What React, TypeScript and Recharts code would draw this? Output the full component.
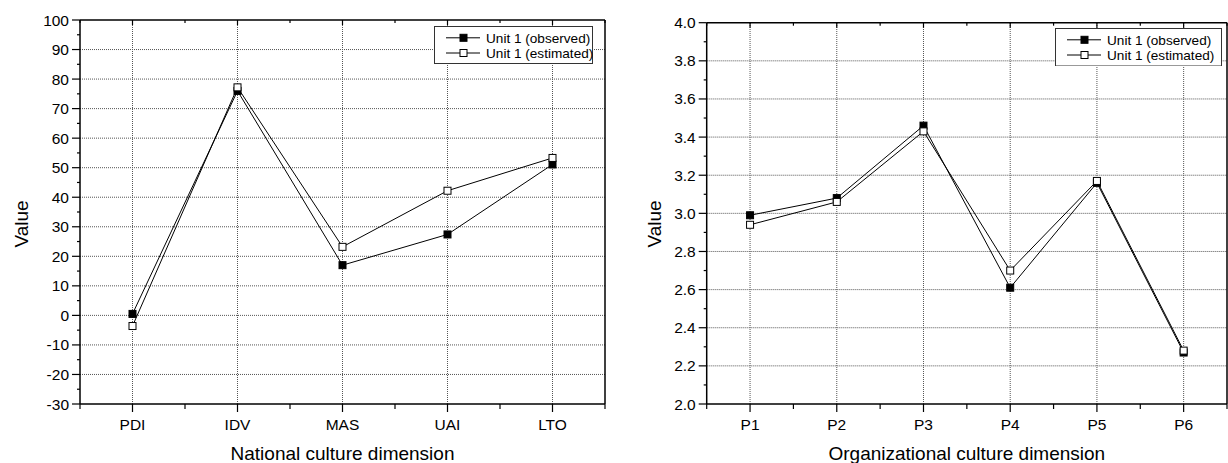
import React from 'react';
import { LineChart, Line, XAxis, YAxis, ReferenceLine } from 'recharts';

// ---------- Data ----------
const nationalCategories = ['PDI', 'IDV', 'MAS', 'UAI', 'LTO'];
const nationalObserved = [0.5, 76, 17, 27.4, 51.1];
const nationalEstimated = [-3.6, 77.2, 23.2, 42.2, 53.3];
const nationalYTicks = [-30, -20, -10, 0, 10, 20, 30, 40, 50, 60, 70, 80, 90, 100];

const orgCategories = ['P1', 'P2', 'P3', 'P4', 'P5', 'P6'];
const orgObserved = [2.99, 3.08, 3.46, 2.61, 3.16, 2.27];
const orgEstimated = [2.94, 3.06, 3.43, 2.7, 3.17, 2.28];
const orgYTicks = [2.0, 2.2, 2.4, 2.6, 2.8, 3.0, 3.2, 3.4, 3.6, 3.8, 4.0];

const seriesNames = ['Unit 1 (observed)', 'Unit 1 (estimated)'];

const FONT = 'Arial, "Liberation Sans", Helvetica, sans-serif';

// ---------- helpers ----------
const withMinors = (majors: number[]) =>
  majors.flatMap((v, i) => (i < majors.length - 1 ? [v, +((v + majors[i + 1]) / 2).toFixed(4)] : [v]));

const categoryTicks = (n: number) => {
  const out: number[] = [];
  for (let i = 0; i < n; i++) out.push(i - 0.5, i);
  out.push(n - 0.5);
  return out;
};

const buildData = (cats: string[], obs: number[], est: number[]) =>
  cats.map((c, i) => ({ x: i, label: c, observed: obs[i], estimated: est[i] }));

const makeXTick = (cats: string[], side: 'bottom' | 'top') => (props: any) => {
  const { x, y, payload } = props;
  const v = payload.value;
  const major = Number.isInteger(v);
  if (side === 'bottom') {
    const len = major ? 8 : 5;
    return (
      <g>
        <line x1={x} y1={y} x2={x} y2={y + len} stroke="#000" strokeWidth={1.2} />
        {major && (
          <text x={x} y={y + 26} textAnchor="middle" fontSize={15.5} fontFamily={FONT} fill="#000">
            {cats[v]}
          </text>
        )}
      </g>
    );
  }
  const len = major ? 5 : 3;
  return <line x1={x} y1={y} x2={x} y2={y + len} stroke="#000" strokeWidth={1.2} />;
};

const makeYTick = (majors: number[], side: 'left' | 'right', fmt: (v: number) => string) => (props: any) => {
  const { x, y, payload } = props;
  const v = payload.value;
  const major = majors.includes(v);
  if (side === 'left') {
    const len = major ? 8 : 3;
    return (
      <g>
        <line x1={x} y1={y} x2={x - len} y2={y} stroke="#000" strokeWidth={1.2} />
        {major && (
          <text x={x - 11} y={y + 5.5} textAnchor="end" fontSize={15.5} fontFamily={FONT} fill="#000">
            {fmt(v)}
          </text>
        )}
      </g>
    );
  }
  const len = major ? 6 : 3;
  return <line x1={x} y1={y} x2={x - len} y2={y} stroke="#000" strokeWidth={1.2} />;
};

const SquareDot = (fill: string) => (p: any) => {
  if (p.cx == null || p.cy == null) return <g key={p.index} />;
  return (
    <rect
      key={`d-${p.index}`}
      x={p.cx - 3.5}
      y={p.cy - 3.5}
      width={7}
      height={7}
      fill={fill}
      stroke="#000"
      strokeWidth={1}
    />
  );
};

function LegendBox({ left, top, w, h }: { left: number; top: number; w: number; h: number }) {
  return (
    <svg width={w} height={h} style={{ position: 'absolute', left, top, display: 'block' }}>
      <rect x={0.5} y={0.5} width={w - 1} height={h - 1} fill="#fff" stroke="#333" strokeWidth={1} />
      {seriesNames.map((name, i) => {
        const ry = i === 0 ? 11.8 : 27;
        return (
          <g key={name}>
            <line x1={12} x2={46} y1={ry} y2={ry} stroke="#000" strokeWidth={1} />
            <rect x={26} y={ry - 3.5} width={7} height={7} fill={i === 0 ? '#000' : '#fff'} stroke="#000" />
            <text x={52} y={ry + 4.8} fontSize={13.6} fontFamily={FONT} fill="#000">
              {name}
            </text>
          </g>
        );
      })}
    </svg>
  );
}

type PanelProps = {
  left: number;
  width: number;
  margin: { top: number; right: number; bottom: number; left: number };
  cats: string[];
  obs: number[];
  est: number[];
  majors: number[];
  fmt: (v: number) => string;
  xTitle: string;
  yTitleX: number;
  legend: { left: number; top: number; w: number; h: number };
  rightAxisWidth: number;
};

function Panel(props: PanelProps) {
  const { left, width, margin, cats, obs, est, majors, fmt, xTitle, yTitleX, legend, rightAxisWidth } = props;
  const data = buildData(cats, obs, est);
  const xTicks = categoryTicks(cats.length);
  const yTicks = withMinors(majors);
  const xDomain: [number, number] = [-0.5, cats.length - 0.5];
  const yDomain: [number, number] = [majors[0], majors[majors.length - 1]];
  const axisLine = { stroke: '#000', strokeWidth: 1.5 };
  const gridStyle = { stroke: '#555', strokeDasharray: '1 1', strokeWidth: 1 };
  return (
    <div style={{ position: 'absolute', left, top: 0, width, height: 463 }}>
      <LineChart width={width} height={463} data={data} margin={margin}>
        {majors.slice(1, -1).map((v) => (
          <ReferenceLine key={`h${v}`} xAxisId="b" yAxisId="l" y={v} {...gridStyle} />
        ))}
        {cats.map((c, i) => (
          <ReferenceLine key={`v${c}`} xAxisId="b" yAxisId="l" x={i} {...gridStyle} />
        ))}
        <XAxis
          xAxisId="b"
          type="number"
          dataKey="x"
          orientation="bottom"
          domain={xDomain}
          ticks={xTicks}
          interval={0}
          height={55}
          tickSize={0}
          tickMargin={0}
          tickLine={false}
          axisLine={axisLine}
          tick={makeXTick(cats, 'bottom')}
          label={{
            content: (lp: any) => {
              const vb = lp.viewBox || {};
              return (
                <text x={vb.x + vb.width / 2} y={460} textAnchor="middle" fontSize={19} fontFamily={FONT} fill="#000">
                  {xTitle}
                </text>
              );
            },
          }}
        />
        <XAxis
          xAxisId="t"
          type="number"
          dataKey="x"
          orientation="top"
          domain={xDomain}
          ticks={xTicks}
          interval={0}
          height={10}
          tickSize={0}
          tickMargin={0}
          tickLine={false}
          axisLine={axisLine}
          tick={makeXTick(cats, 'top')}
        />
        <YAxis
          yAxisId="l"
          type="number"
          orientation="left"
          domain={yDomain}
          ticks={yTicks}
          interval={0}
          width={50}
          tickSize={0}
          tickMargin={0}
          tickLine={false}
          axisLine={axisLine}
          tick={makeYTick(majors, 'left', fmt)}
          label={{
            content: () => (
              <text
                x={yTitleX}
                y={224}
                transform={`rotate(-90, ${yTitleX}, 224)`}
                textAnchor="middle"
                fontSize={19}
                fontFamily={FONT}
                fill="#000"
              >
                Value
              </text>
            ),
          }}
        />
        <YAxis
          yAxisId="r"
          type="number"
          orientation="right"
          domain={yDomain}
          ticks={yTicks}
          interval={0}
          width={rightAxisWidth}
          tickSize={0}
          tickMargin={0}
          tickLine={false}
          axisLine={axisLine}
          tick={makeYTick(majors, 'right', fmt)}
        />
        <Line
          xAxisId="b"
          yAxisId="l"
          dataKey="observed"
          name={seriesNames[0]}
          stroke="#000"
          strokeWidth={1}
          dot={SquareDot('#000')}
          activeDot={false}
          isAnimationActive={false}
        />
        <Line
          xAxisId="b"
          yAxisId="l"
          dataKey="estimated"
          name={seriesNames[1]}
          stroke="#000"
          strokeWidth={1}
          dot={SquareDot('#fff')}
          activeDot={false}
          isAnimationActive={false}
        />
      </LineChart>
      <LegendBox {...legend} />
    </div>
  );
}

export default function App() {
  return (
    <div style={{ position: 'absolute', left: 0, top: 0, width: 1228, height: 463, background: '#fff', overflow: 'hidden' }}>
      <Panel
        left={0}
        width={620}
        margin={{ top: 10, right: 5, bottom: 4, left: 30 }}
        cats={nationalCategories}
        obs={nationalObserved}
        est={nationalEstimated}
        majors={nationalYTicks}
        fmt={(v) => String(v)}
        xTitle="National culture dimension"
        yTitleX={28}
        legend={{ left: 434, top: 26, w: 159, h: 38 }}
        rightAxisWidth={10}
      />
      <Panel
        left={620}
        width={608}
        margin={{ top: 12.7, right: 0, bottom: 4, left: 36.7 }}
        cats={orgCategories}
        obs={orgObserved}
        est={orgEstimated}
        majors={orgYTicks}
        fmt={(v) => v.toFixed(1)}
        xTitle="Organizational culture dimension"
        yTitleX={40.5}
        legend={{ left: 435, top: 27.5, w: 167, h: 38.5 }}
        rightAxisWidth={1}
      />
    </div>
  );
}
